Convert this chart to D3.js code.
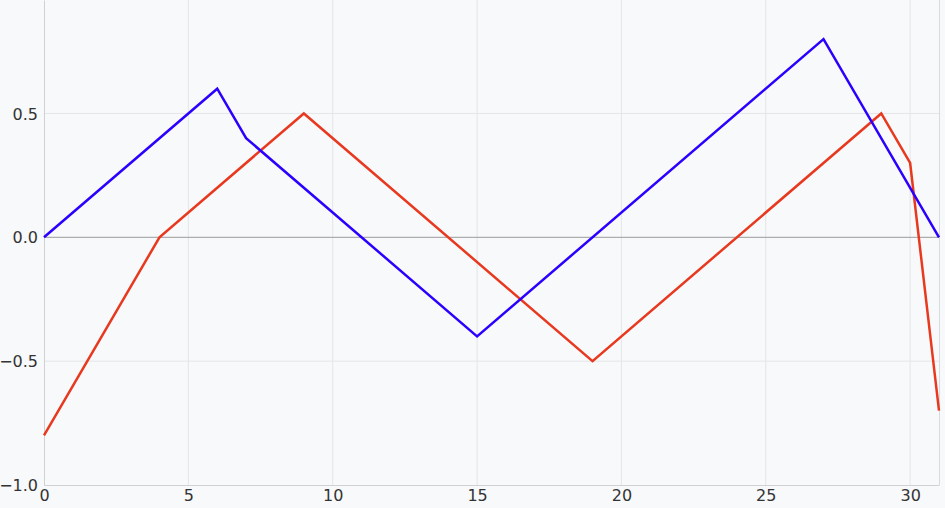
<html>
<head>
<meta charset="utf-8">
<script src="https://d3js.org/d3.v7.min.js"></script>
<style>
body { margin: 0; background: #f8f9fb; }
svg { display: block; }
.tick text { font-family: 'DejaVu Sans'; font-size: 16px; fill: #333; }
</style>
</head>
<body>
<svg width="945" height="508"></svg>
<script>
// series data
const blueX = [0, 6, 7, 15, 27, 31];
const blueY = [0, 0.6, 0.4, -0.4, 0.8, 0];
const redX = [0, 4, 9, 19, 29, 30, 31];
const redY = [-0.8, 0, 0.5, -0.5, 0.5, 0.3, -0.7];
const xTicks = [0, 5, 10, 15, 20, 25, 30];
const yTicks = [-1.0, -0.5, 0.0, 0.5];

const svg = d3.select("svg");
const mLeft = 44, mRight = 939, mTop = 0, mBottom = 485;

const x = d3.scaleLinear().domain([0, 31]).range([mLeft, mRight]);
const y = d3.scaleLinear().domain([-1, 0.958]).range([mBottom, mTop]);

// grid
svg.append("g").selectAll("line")
  .data(xTicks.slice(1)).enter().append("line")
  .attr("x1", d => x(d)).attr("x2", d => x(d))
  .attr("y1", mTop).attr("y2", mBottom)
  .attr("stroke", "#e3e5e9").attr("stroke-width", 1);
svg.append("g").selectAll("line")
  .data(yTicks.filter(d => d != 0 && d != -1)).enter().append("line")
  .attr("x1", mLeft).attr("x2", mRight)
  .attr("y1", d => y(d)).attr("y2", d => y(d))
  .attr("stroke", "#e3e5e9").attr("stroke-width", 1);

// right border
svg.append("line")
  .attr("x1", mRight + 0.5).attr("x2", mRight + 0.5)
  .attr("y1", mTop).attr("y2", mBottom)
  .attr("stroke", "#d8dadf");

// zero line
svg.append("line")
  .attr("x1", mLeft).attr("x2", mRight)
  .attr("y1", y(0)).attr("y2", y(0))
  .attr("stroke", "#9a9a9a").attr("stroke-width", 1);

const fmt = d3.format(".1f");

const xAxis = svg.append("g")
  .attr("transform", `translate(0,${mBottom})`)
  .call(d3.axisBottom(x).tickValues(xTicks).tickSize(0).tickPadding(5));
xAxis.select(".domain").attr("stroke", "#cfd1d5");

const yAxis = svg.append("g")
  .attr("transform", `translate(${mLeft},0)`)
  .call(d3.axisLeft(y).tickValues(yTicks).tickFormat(fmt).tickSize(0).tickPadding(6));
yAxis.select(".domain").attr("stroke", "#cfd1d5");
yAxis.selectAll(".tick text").attr("dy", "0.35em");

const line = d3.line().x(d => x(d[0])).y(d => y(d[1]));

svg.append("path")
  .datum(redX.map((d, i) => [d, redY[i]]))
  .attr("d", line)
  .attr("fill", "none")
  .attr("stroke", "#e8391f")
  .attr("stroke-width", 2.5);

svg.append("path")
  .datum(blueX.map((d, i) => [d, blueY[i]]))
  .attr("d", line)
  .attr("fill", "none")
  .attr("stroke", "#2b00ff")
  .attr("stroke-width", 2.5);
</script>
</body>
</html>
